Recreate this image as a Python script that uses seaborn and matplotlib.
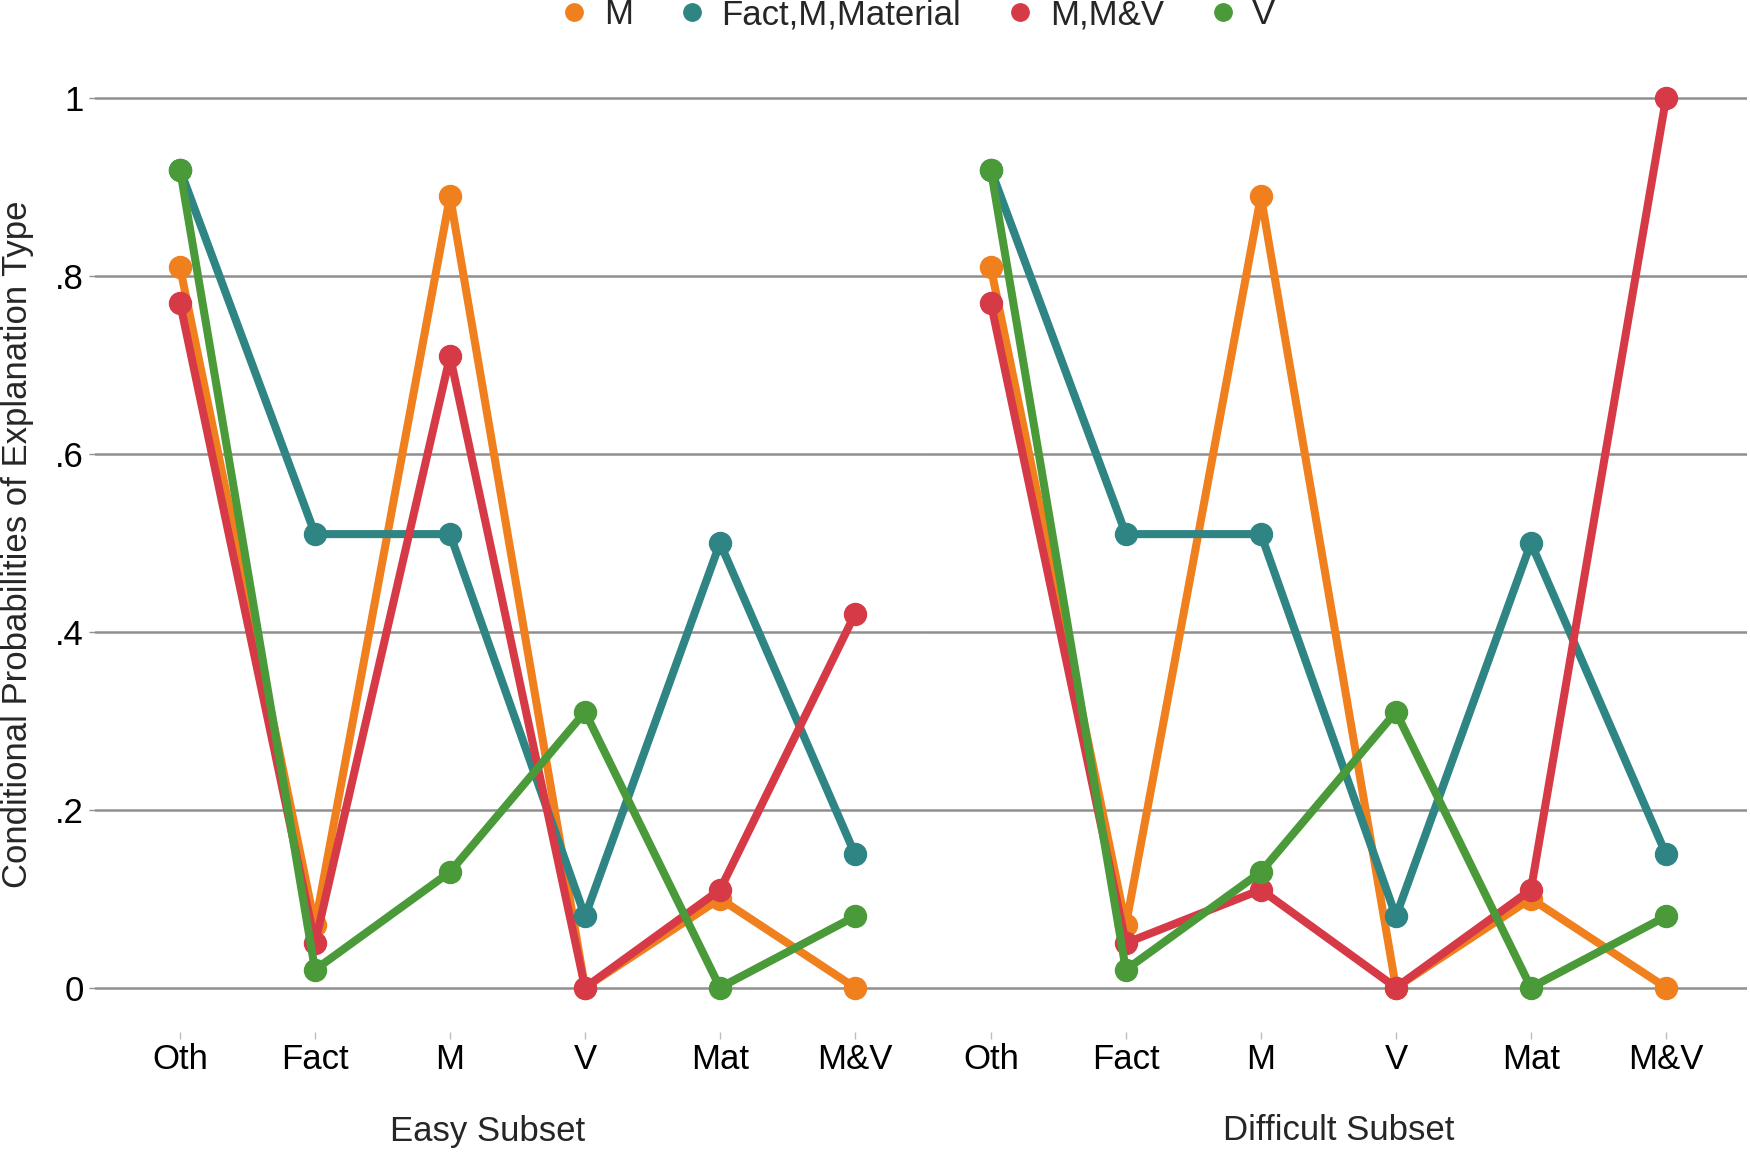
"""conditional probabilities of explanation type, easy vs difficult subset."""

import matplotlib

matplotlib.use("Agg")
import matplotlib.pyplot as plt
from matplotlib.lines import Line2D
import pandas as pd
import seaborn as sns

categories = ["Oth", "Fact", "M", "V", "Mat", "M&V"]
subsets = ["Easy Subset", "Difficult Subset"]
series = ["M", "Fact,M,Material", "M,M&V", "V"]

easy_m = [0.81, 0.07, 0.89, 0.00, 0.10, 0.00]
easy_fmm = [0.92, 0.51, 0.51, 0.08, 0.50, 0.15]
easy_mmv = [0.77, 0.05, 0.71, 0.00, 0.11, 0.42]
easy_v = [0.92, 0.02, 0.13, 0.31, 0.00, 0.08]

diff_m = [0.81, 0.07, 0.89, 0.00, 0.10, 0.00]
diff_fmm = [0.92, 0.51, 0.51, 0.08, 0.50, 0.15]
diff_mmv = [0.77, 0.05, 0.11, 0.00, 0.11, 1.00]
diff_v = [0.92, 0.02, 0.13, 0.31, 0.00, 0.08]

y_ticks = [0, 0.2, 0.4, 0.6, 0.8, 1.0]
y_ticklabels = ["0", ".2", ".4", ".6", ".8", "1"]

colors = ["#F07F1E", "#2E8583", "#D63A47", "#4A9A3A"]


def _long_df() -> pd.DataFrame:
    rows = []
    values = {
        "Easy Subset": [easy_m, easy_fmm, easy_mmv, easy_v],
        "Difficult Subset": [diff_m, diff_fmm, diff_mmv, diff_v],
    }
    for subset in subsets:
        for name, vals in zip(series, values[subset]):
            for cat, v in zip(categories, vals):
                rows.append({"subset": subset, "series": name, "category": cat, "value": v})
    return pd.DataFrame(rows)


def main() -> None:
    sns.set_theme(style="white")
    plt.rcParams["font.family"] = ["Liberation Sans", "DejaVu Sans"]

    df = _long_df()
    W, H = 1750, 1152
    fs = 25
    fig = plt.figure(figsize=(W / 100, H / 100), dpi=100)

    top, bottom = 54, 1032
    panels = [(95, 926, (-0.63, 5.526)), (926, 1747, (-0.48, 5.6))]
    axes = []
    for (x0, x1, xlim), subset in zip(panels, subsets):
        ax = fig.add_axes([x0 / W, 1 - bottom / H, (x1 - x0) / W, (bottom - top) / H])
        ax.set_facecolor("none")
        sns.pointplot(
            data=df[df["subset"] == subset],
            x="category",
            y="value",
            hue="series",
            order=categories,
            hue_order=series,
            palette=colors,
            markers="o",
            linestyles="-",
            dodge=False,
            errorbar=None,
            legend=False,
            linewidth=5.8,
            markersize=12.5,
            ax=ax,
        )
        ax.set_xlim(*xlim)
        ax.set_ylim(-0.05, 1.05)
        ax.set_yticks(y_ticks)
        ax.yaxis.grid(True, color="#8f8f8f", linewidth=1.8, zorder=0)
        ax.xaxis.grid(False)
        ax.set_axisbelow(True)
        for s in ax.spines.values():
            s.set_visible(False)
        ax.tick_params(axis="x", bottom=True, length=5, width=1, color="#bdbdbd",
                       labelsize=fs, pad=3, labelcolor="black")
        ax.set_xlabel("")
        ax.set_ylabel("")
        axes.append(ax)

    axes[0].set_yticklabels(y_ticklabels)
    axes[0].tick_params(axis="y", left=True, length=4, width=1, color="#8f8f8f",
                        labelsize=fs, pad=4, labelcolor="black")
    axes[1].tick_params(axis="y", left=False, labelleft=False)

    fig.text(18 / W, 1 - 544 / H, "Conditional Probabilities of Explanation Type",
             rotation=90, ha="center", va="center", fontsize=fs)
    fig.text(488 / W, 1 - 1131 / H, "Easy Subset", ha="center", va="center", fontsize=fs)
    fig.text(1339 / W, 1 - 1131 / H, "Difficult Subset", ha="center", va="center", fontsize=fs)

    handles = [
        Line2D([], [], marker="o", linestyle="none", color=c, markersize=12.5)
        for c in colors
    ]
    fig.legend(handles, series, loc="center", bbox_to_anchor=(918 / W, 1 - 15 / H),
               ncol=4, frameon=False, fontsize=fs, handlelength=0.8, handletextpad=0.45,
               columnspacing=1.3, borderaxespad=0)

    fig.savefig("out.png", dpi=100)
    plt.close(fig)


if __name__ == "__main__":
    main()
